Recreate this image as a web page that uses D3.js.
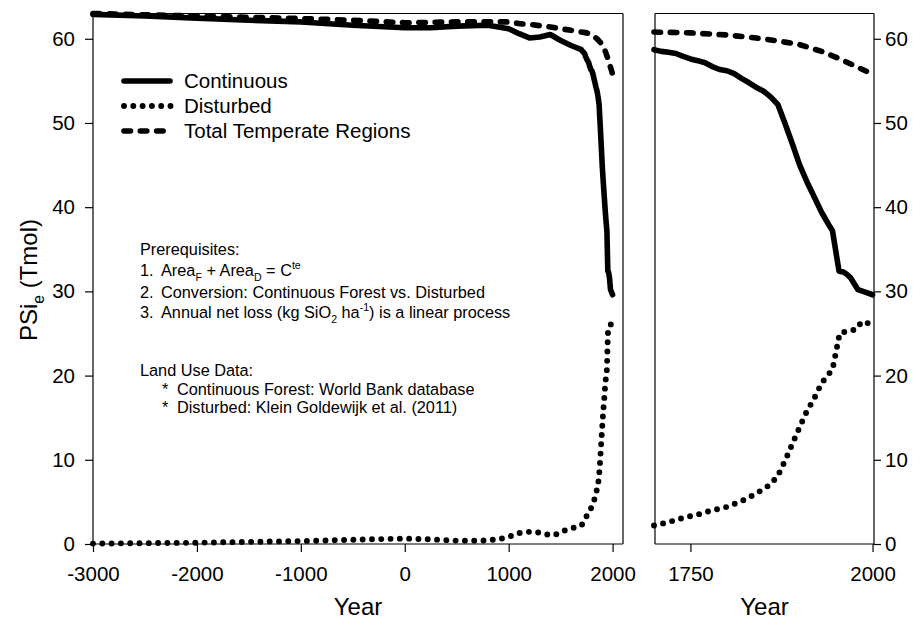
<!DOCTYPE html>
<html><head><meta charset="utf-8">
<script src="https://cdn.jsdelivr.net/npm/d3@7"></script>
<style>
body{margin:0;background:#fff}
svg{display:block}
text{font-family:Arial,"Liberation Sans",sans-serif;fill:#000}
</style>
</head><body>
<svg id="c" width="923" height="626"></svg>
<script>
// ---------------- DATA ----------------
const contYears  = [-3000,-2500,-2000,-1500,-1000,-500,0,250,500,800,1000,1100,1200,1300,1400,1500,1600,1700,
  1710,1720,1730,1740,1750,1760,1770,1780,1790,1800,1810,1820,1830,1840,1850,1860,1870,1880,1890,1900,1910,1920,1930,1940,1945,1954,1960,1965,1970,1980,1990,2000];
const contValues = [62.9,62.7,62.45,62.2,62.0,61.6,61.3,61.3,61.5,61.6,61.2,60.6,60.1,60.2,60.5,59.8,59.2,58.7,
  58.5,58.4,58.25,57.9,57.6,57.4,57.15,56.7,56.35,56.2,55.85,55.3,54.8,54.25,53.8,53.1,52.2,49.9,47.5,45.0,43.0,41.2,39.4,37.9,37.2,32.4,32.3,32.0,31.6,30.2,29.9,29.6];

const distYears  = [-3000,-2500,-2000,-1500,-1000,-500,0,250,500,750,900,1000,1100,1200,1300,1400,1450,1500,1600,1700,
  1710,1720,1730,1740,1750,1760,1770,1780,1790,1800,1810,1820,1830,1840,1850,1860,1870,1880,1890,1900,1910,1920,1930,1940,1945,1955,1960,1970,1978,1985,1995,2000];
const distValues = [0.05,0.1,0.15,0.25,0.35,0.5,0.65,0.55,0.4,0.4,0.55,0.85,1.3,1.45,1.35,1.05,1.1,1.45,1.85,2.2,
  2.4,2.6,2.85,3.1,3.3,3.5,3.75,4.0,4.2,4.4,4.75,5.1,5.5,6.0,6.5,7.1,8.1,9.9,11.9,13.9,15.8,17.3,19.1,20.2,20.7,25.05,25.15,25.35,25.5,26.4,26.2,26.0];

const totalYears  = [-3000,-2000,-1500,-1000,-500,0,500,1000,1100,1200,1400,1600,1700,1750,1800,1850,1880,1900,1930,1950,1970,1990,2000];
const totalValues = [63.0,62.7,62.55,62.4,62.2,61.9,62.0,62.0,61.8,61.7,61.4,61.0,60.8,60.7,60.45,60.0,59.6,59.3,58.5,57.8,57.0,56.2,55.8];

const seriesNames = ["Continuous","Disturbed","Total Temperate Regions"];
const yTicks      = [0,10,20,30,40,50,60];
const xTicksLeft  = [-3000,-2000,-1000,0,1000,2000];
const xTicksRight = [1750,2000];
const zoomStart   = 1700;

// ---------------- LAYOUT ----------------
const svg = d3.select("#c");
const yTop = 13.5, yBot = 544;
const L = {x0:93, x1:623};
const R = {x0:654, x1:874, frameLeft:655};

const y  = d3.scaleLinear().domain([0,63]).range([yBot,yTop]);
const xL = d3.scaleLinear().domain([-3000,2100]).range([L.x0,L.x1]);
const xR = d3.scaleLinear().domain([1700,2002]).range([R.x0,R.x1]);

const zip = (a,b) => a.map((v,i)=>[v,b[i]]);
const cont  = zip(contYears, contValues);
const dist  = zip(distYears, distValues);
const total = zip(totalYears, totalValues);

const styles = {
  solid:  {w:5.6, dash:null},
  dotted: {w:5.9, dash:"0 9.3"},
  dashed: {w:5.6, dash:"6.5 9.8"}
};
function drawLine(g, data, xs, st){
  const line = d3.line().x(d=>xs(d[0])).y(d=>y(d[1]));
  const p = g.append("path").datum(data).attr("d", line)
    .attr("fill","none").attr("stroke","#000")
    .attr("stroke-width", st.w).attr("stroke-linejoin","round").attr("stroke-linecap","round");
  if (st.dash) p.attr("stroke-dasharray", st.dash);
}

const tickFont = "20.5px";

// ---------------- LEFT PANEL ----------------
const gL = svg.append("g");
gL.append("line").attr("x1",L.x0).attr("x2",L.x1).attr("y1",yTop).attr("y2",yTop).attr("stroke","#000").attr("stroke-width",1.2);
gL.append("line").attr("x1",L.x1).attr("x2",L.x1).attr("y1",yTop).attr("y2",yBot).attr("stroke","#000").attr("stroke-width",1.2);

const axL = gL.append("g").attr("transform",`translate(${L.x0},0)`)
  .call(d3.axisLeft(y).tickValues(yTicks).tickSize(8).tickPadding(10).tickSizeOuter(0));
const axLB = gL.append("g").attr("transform",`translate(0,${yBot})`)
  .call(d3.axisBottom(xL).tickValues(xTicksLeft).tickSize(8).tickPadding(14).tickSizeOuter(0).tickFormat(d3.format("d")));
[axL,axLB].forEach(a=>{
  a.select(".domain").attr("stroke-width",1.2);
  a.selectAll(".tick line").attr("stroke-width",1.2);
  a.selectAll("text").style("font-size",tickFont).style("font-family","Arial, 'Liberation Sans', sans-serif");
});
axLB.selectAll("text").text(d=>d<0?"-"+Math.abs(d):d);
axLB.select(".domain").attr("d",`M${L.x0},0H${L.x1}`);
axL.select(".domain").attr("d",`M0,${yBot}V${yTop}`);

drawLine(gL, cont, xL, styles.solid);
drawLine(gL, total, xL, styles.dashed);
drawLine(gL, dist, xL, styles.dotted);

// ---------------- RIGHT PANEL ----------------
const gR = svg.append("g");
gR.append("line").attr("x1",R.frameLeft).attr("x2",R.x1).attr("y1",yTop).attr("y2",yTop).attr("stroke","#000").attr("stroke-width",1.2);
gR.append("line").attr("x1",R.frameLeft).attr("x2",R.frameLeft).attr("y1",yTop).attr("y2",yBot).attr("stroke","#000").attr("stroke-width",1.2);
const axR = gR.append("g").attr("transform",`translate(${R.x1},0)`)
  .call(d3.axisRight(y).tickValues(yTicks).tickSize(7).tickPadding(4).tickSizeOuter(0));
const axRB = gR.append("g").attr("transform",`translate(0,${yBot})`)
  .call(d3.axisBottom(xR).tickValues(xTicksRight).tickSize(8).tickPadding(14).tickSizeOuter(0).tickFormat(d3.format("d")));
[axR,axRB].forEach(a=>{
  a.select(".domain").attr("stroke-width",1.2);
  a.selectAll(".tick line").attr("stroke-width",1.2);
  a.selectAll("text").style("font-size",tickFont).style("font-family","Arial, 'Liberation Sans', sans-serif");
});
axRB.select(".domain").attr("d",`M${R.frameLeft},0H${R.x1}`);
axR.select(".domain").attr("d",`M0,${yBot}V${yTop}`);

const inZoom = arr => arr.filter(d=>d[0]>=zoomStart);
drawLine(gR, inZoom(cont), xR, styles.solid);
drawLine(gR, inZoom(total), xR, styles.dashed);
drawLine(gR, inZoom(dist), xR, styles.dotted);

// ---------------- AXIS TITLES ----------------
svg.append("text").attr("x",(L.x0+L.x1)/2).attr("y",615).attr("text-anchor","middle").style("font-size","24px").text("Year");
svg.append("text").attr("x",(R.frameLeft+R.x1)/2).attr("y",615).attr("text-anchor","middle").style("font-size","24px").text("Year");

function rich(parent, x, y, parts, size, attrs){
  const t = parent.append("text").attr("x",x).attr("y",y).style("font-size",size+"px");
  if (attrs) Object.entries(attrs).forEach(([k,v])=>t.attr(k,v));
  let shift = 0;
  parts.forEach(p=>{
    if (typeof p === "string"){
      t.append("tspan").attr("dy",-shift).text(p); shift = 0;
    } else {
      const s = p.sub ? size*0.28 : -size*0.42;
      t.append("tspan").attr("dy",s-shift).style("font-size",(size*0.65)+"px").text(p.sub||p.sup);
      shift = s;
    }
  });
  return t;
}
rich(svg, 0, 0, ["PSi",{sub:"e"}," (Tmol)"], 24, {"transform":"translate(37,280) rotate(-90)","text-anchor":"middle"});

// ---------------- LEGEND ----------------
const legY = [81,106,131];
const legStyles = [styles.solid, styles.dotted, styles.dashed];
seriesNames.forEach((n,i)=>{
  const st = legStyles[i];
  const l = svg.append("line").attr("x1",124).attr("x2",i===1?171:170).attr("y1",legY[i]).attr("y2",legY[i])
    .attr("stroke","#000").attr("stroke-width",st.w).attr("stroke-linecap","round");
  if (st.dash) l.attr("stroke-dasharray",st.dash);
  svg.append("text").attr("x",184).attr("y",legY[i]+7.3).style("font-size","20.5px").text(n);
});

// ---------------- ANNOTATIONS ----------------
const fs = 16.3;
svg.append("text").attr("x",140).attr("y",255).style("font-size",fs+"px").text("Prerequisites:");
const items = [
  ["1.", ["Area",{sub:"F"}," + Area",{sub:"D"}," = C",{sup:"te"}], 276],
  ["2.", ["Conversion: Continuous Forest vs. Disturbed"], 298],
  ["3.", ["Annual net loss (kg SiO",{sub:"2"}," ha",{sup:"-1"},") is a linear process"], 318]
];
items.forEach(([num, parts, yy])=>{
  svg.append("text").attr("x",140).attr("y",yy).style("font-size",fs+"px").text(num);
  rich(svg, 161, yy, parts, fs);
});
svg.append("text").attr("x",140).attr("y",376).style("font-size",fs+"px").text("Land Use Data:");
[["Continuous Forest: World Bank database",395],["Disturbed: Klein Goldewijk et al. (2011)",413]].forEach(([s,yy])=>{
  svg.append("text").attr("x",162).attr("y",yy).style("font-size",fs+"px").text("*");
  svg.append("text").attr("x",177).attr("y",yy).style("font-size",fs+"px").text(s);
});
</script>
</body></html>
